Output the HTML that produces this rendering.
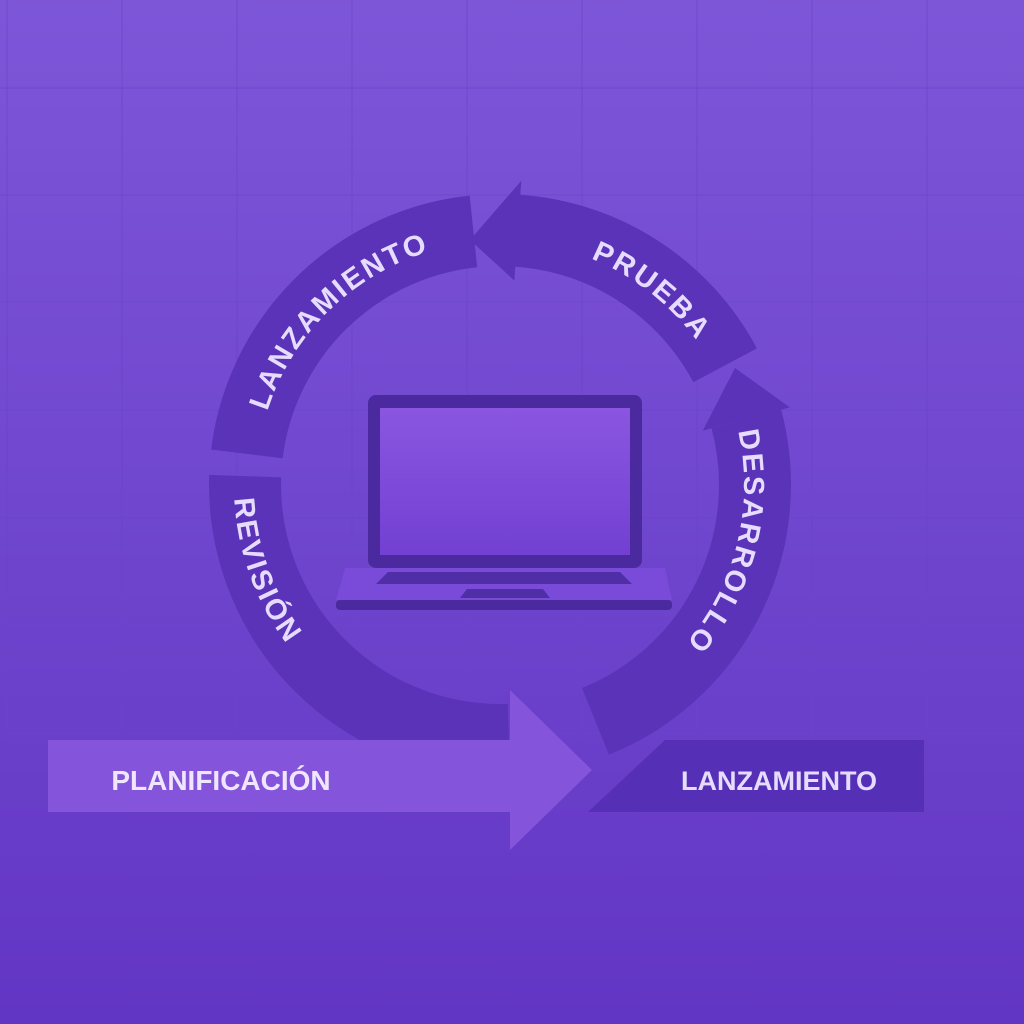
<!DOCTYPE html>
<html><head><meta charset="utf-8"><style>
html,body{margin:0;padding:0;width:1024px;height:1024px;overflow:hidden}
svg{display:block}
text{font-family:"Liberation Sans",sans-serif;font-weight:bold}
</style></head><body>
<svg width="1024" height="1024" viewBox="0 0 1024 1024" xmlns="http://www.w3.org/2000/svg">
<defs>
<linearGradient id="bg" x1="0" y1="0" x2="0" y2="1">
<stop offset="0" stop-color="#7d56d8"/><stop offset="1" stop-color="#6236c4"/>
</linearGradient>
<linearGradient id="scr" x1="0" y1="0" x2="0" y2="1">
<stop offset="0" stop-color="#8a56e0"/><stop offset="1" stop-color="#7240d2"/>
</linearGradient>
<path id="t1" d="M257.8 455.3 A244 244 0 0 1 474.5 242.3"/>
<path id="t2" d="M534 243.4 A244 244 0 0 1 726.2 393.6"/>
<path id="t3" d="M734.6 417.7 A244 244 0 0 1 675.5 654.5"/>
<path id="t4" d="M243.1 416.2 A266 266 0 0 0 347.4 702.9"/>
</defs>
<rect width="1024" height="1024" fill="url(#bg)"/>
<g stroke="#6a44c8" stroke-opacity="0.35" stroke-width="2">
<line x1="7" y1="0" x2="7" y2="740"/><line x1="122" y1="0" x2="122" y2="740"/><line x1="237" y1="0" x2="237" y2="740"/><line x1="352" y1="0" x2="352" y2="740"/><line x1="467" y1="0" x2="467" y2="740"/><line x1="582" y1="0" x2="582" y2="740"/><line x1="697" y1="0" x2="697" y2="740"/><line x1="812" y1="0" x2="812" y2="740"/><line x1="927" y1="0" x2="927" y2="740"/>
<line x1="0" y1="88" x2="1024" y2="88"/><line x1="0" y1="195" x2="1024" y2="195"/><line x1="0" y1="302" x2="1024" y2="302"/><line x1="0" y1="410" x2="1024" y2="410"/><line x1="0" y1="518" x2="1024" y2="518"/><line x1="0" y1="625" x2="1024" y2="625"/><line x1="0" y1="733" x2="1024" y2="733"/>
</g>
<g fill="none" stroke="#5a33b8" stroke-width="72">
<path d="M246.9 453.9 A255 255 0 0 1 473.4 231.4"/>
<path d="M508.9 230.2 A255 255 0 0 1 725.1 365.3"/>
<path d="M746.3 419 A255 255 0 0 1 595.5 721.4"/>
<path d="M245.2 476.1 A255 255 0 0 0 508.9 739.8"/>
</g>
<polygon points="470,240 514.3,280.5 521.3,180.7" fill="#5a33b8"/>
<polygon points="735,368 702.8,430.6 789.8,407.4" fill="#5a33b8"/>
<g fill="#e6dcff" font-size="29" letter-spacing="2.5">
<text><textPath href="#t1" startOffset="50%" text-anchor="middle">LANZAMIENTO</textPath></text>
<text><textPath href="#t2" startOffset="50%" text-anchor="middle">PRUEBA</textPath></text>
<text><textPath href="#t3" startOffset="50%" text-anchor="middle">DESARROLLO</textPath></text>
<text><textPath href="#t4" startOffset="50%" text-anchor="middle">REVISIÓN</textPath></text>
</g>
<rect x="368" y="395" width="274" height="173" rx="8" fill="#4a2a9e"/>
<rect x="380" y="408" width="250" height="147" fill="url(#scr)"/>
<polygon points="345,568 665,568 672,600 336,600" fill="#7a4ad8"/>
<rect x="336" y="600" width="336" height="10" rx="4" fill="#4a2a9e"/>
<polygon points="388,572 620,572 632,584 376,584" fill="#4f2ea6"/>
<polygon points="467,589 543,589 550,598 460,598" fill="#4f2ea6"/>
<polygon points="665,740 924,740 924,812 588,812" fill="#5530b6"/>
<polygon points="48,740 510,740 510,690 592,770 510,850 510,812 48,812" fill="#8454da"/>
<text x="221" y="790" font-size="28" fill="#efe6ff" text-anchor="middle">PLANIFICACIÓN</text>
<text x="779" y="790" font-size="27" fill="#e6dcff" text-anchor="middle">LANZAMIENTO</text>
</svg>
</body></html>
